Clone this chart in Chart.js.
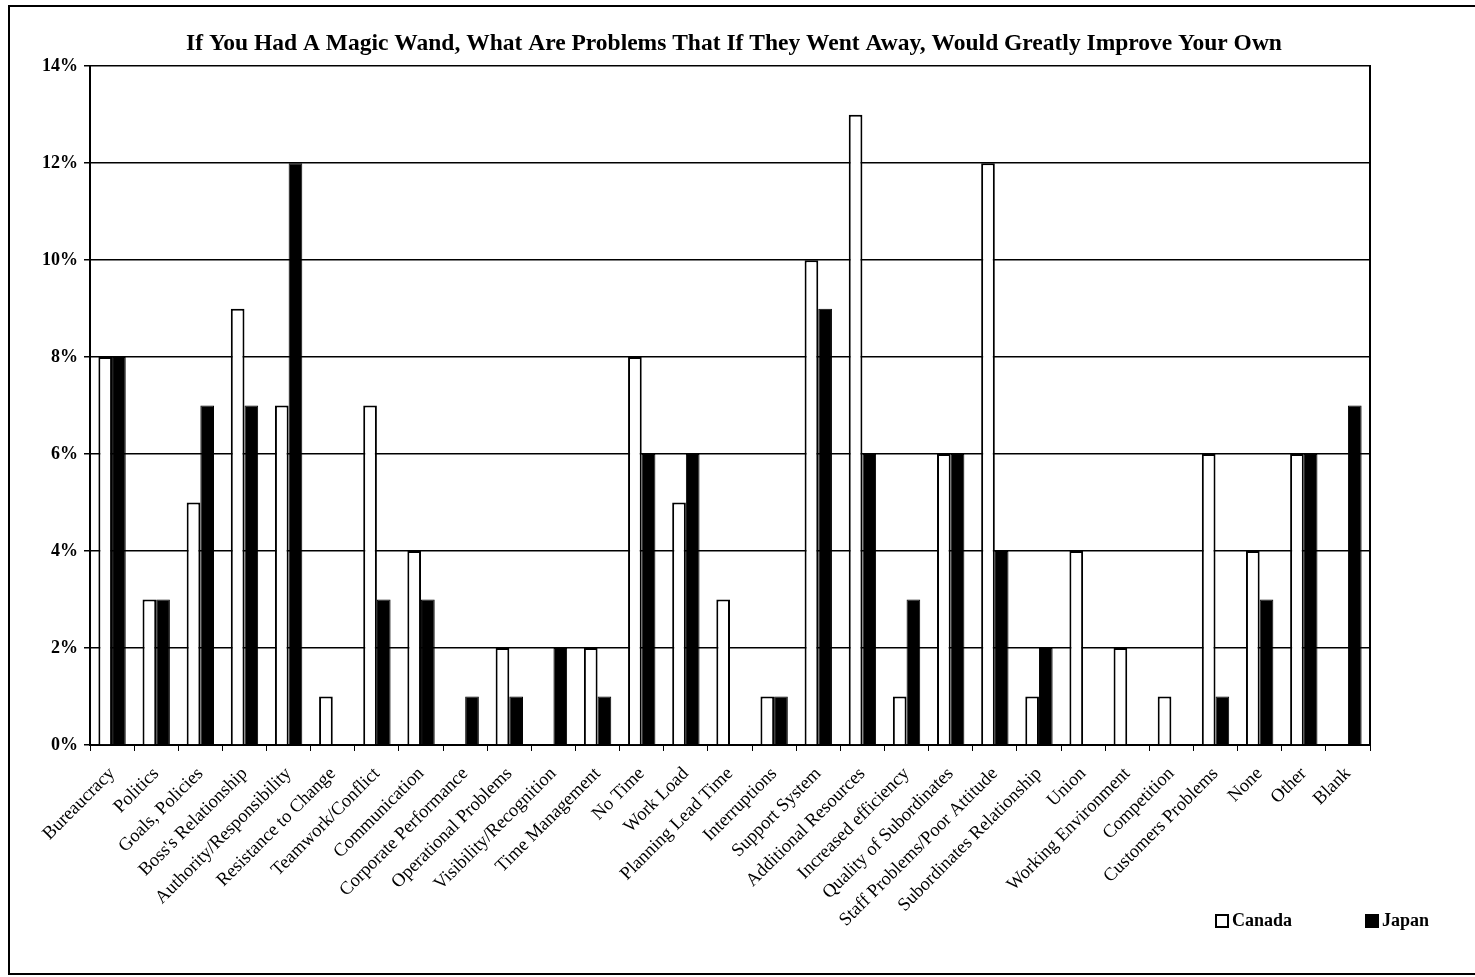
<!DOCTYPE html>
<html>
<head>
<meta charset="utf-8">
<script src="https://cdn.jsdelivr.net/npm/chart.js@4/dist/chart.umd.min.js"></script>
<style>
  html, body { margin: 0; padding: 0; background: #fff; }
  #frame { position: absolute; left: 8px; top: 5px; width: 1480px; height: 966px; border: 2px solid #000; }
  #myChart { position: absolute; left: 0; top: 0; }
  #legend { position: absolute; left: 1215px; top: 910px; font: bold 18px "Liberation Serif", serif; color: #000; }
  #legend span.item { display: inline-flex; align-items: center; margin-right: 73px; }
  #legend span.item:last-child { margin-right: 0; }
  #legend span.box { display: inline-block; width: 10px; height: 10px; margin-right: 3px; border: 2px solid #000; }
</style>
</head>
<body>
<div id="frame"></div>
<canvas id="myChart" width="1475" height="977"></canvas>
<div id="legend"></div>
<script>
const categories = [
    'Bureaucracy', 'Politics', 'Goals, Policies', "Boss's Relationship", 'Authority/Responsibility',
    'Resistance to Change', 'Teamwork/Conflict', 'Communication', 'Corporate Performance',
    'Operational Problems', 'Visibility/Recognition', 'Time Management', 'No Time', 'Work Load',
    'Planning Lead Time', 'Interruptions', 'Support System', 'Additional Resources',
    'Increased efficiency', 'Quality of Subordinates', 'Staff Problems/Poor Attitude',
    'Subordinates Relationship', 'Union', 'Working Environment', 'Competition',
    'Customers Problems', 'None', 'Other', 'Blank'
]
const canada = [8, 3, 5, 9, 7, 1, 7, 4, 0, 2, 0, 2, 8, 5, 3, 1, 10, 13, 1, 6, 12, 1, 4, 2, 1, 6, 4, 6, 0]
const japan = [8, 3, 7, 7, 12, 0, 3, 3, 1, 1, 2, 1, 6, 6, 0, 1, 9, 6, 3, 6, 4, 2, 0, 0, 0, 1, 3, 6, 7]
const yTicks = [0, 2, 4, 6, 8, 10, 12, 14]

const serif = '"Liberation Serif", "Times New Roman", serif'

const ctx = document.getElementById('myChart').getContext('2d');
const chart = new Chart(ctx, {
    type: 'bar',
    data: {
        labels: categories,
        datasets: [{
            label: 'Canada',
            data: canada,
            backgroundColor: '#fff',
            borderColor: '#000',
            borderWidth: 2,
            categoryPercentage: 0.62,
            barPercentage: 1
        }, {
            label: 'Japan',
            data: japan,
            backgroundColor: '#000',
            borderColor: '#000',
            borderWidth: 1,
            categoryPercentage: 0.62,
            barPercentage: 1
        }]
    },
    options: {
        responsive: false,
        animation: false,
        layout: { padding: { left: 0, right: 7, top: 30, bottom: 0 } },
        plugins: {
            title: {
                display: true,
                text: 'If You Had A Magic Wand, What Are Problems That If They Went Away, Would Greatly Improve Your Own',
                color: '#000',
                font: { family: serif, size: 23.5, weight: 'bold' },
                padding: { top: 0, bottom: 8 }
            },
            legend: { display: false },
            tooltip: { enabled: false }
        },
        scales: {
            x: {
                offset: true,
                grid: { display: true, drawOnChartArea: false, offset: true, color: '#000', tickLength: 6 },
                border: { color: '#000', width: 2 },
                ticks: {
                    color: '#000',
                    autoSkip: false,
                    minRotation: 45,
                    maxRotation: 45,
                    padding: 12,
                    font: { family: serif, size: 18.5 }
                },
                afterFit: (scale) => { scale.height = 232 }
            },
            y: {
                min: 0,
                max: 14,
                afterBuildTicks: (scale) => { scale.ticks = yTicks.map(v => ({ value: v })) },
                grid: { color: '#000', lineWidth: 1.5, tickLength: 6 },
                border: { color: '#000', width: 2 },
                ticks: {
                    color: '#000',
                    padding: 6,
                    font: { family: serif, size: 18, weight: 'bold' },
                    callback: (v) => v + '%'
                },
                afterFit: (scale) => { scale.width = 90 }
            },
            y2: {
                position: 'right',
                min: 0,
                max: 14,
                grid: { drawOnChartArea: false, drawTicks: false },
                border: { color: '#000', width: 2 },
                ticks: { display: false },
                afterFit: (scale) => { scale.width = 98 }
            }
        }
    }
});

// html legend built from the datasets
const legendEl = document.getElementById('legend')
chart.data.datasets.forEach(ds => {
    const item = document.createElement('span')
    item.className = 'item'
    const box = document.createElement('span')
    box.className = 'box'
    box.style.background = ds.backgroundColor
    item.appendChild(box)
    item.appendChild(document.createTextNode(ds.label))
    legendEl.appendChild(item)
})
</script>
</body>
</html>
